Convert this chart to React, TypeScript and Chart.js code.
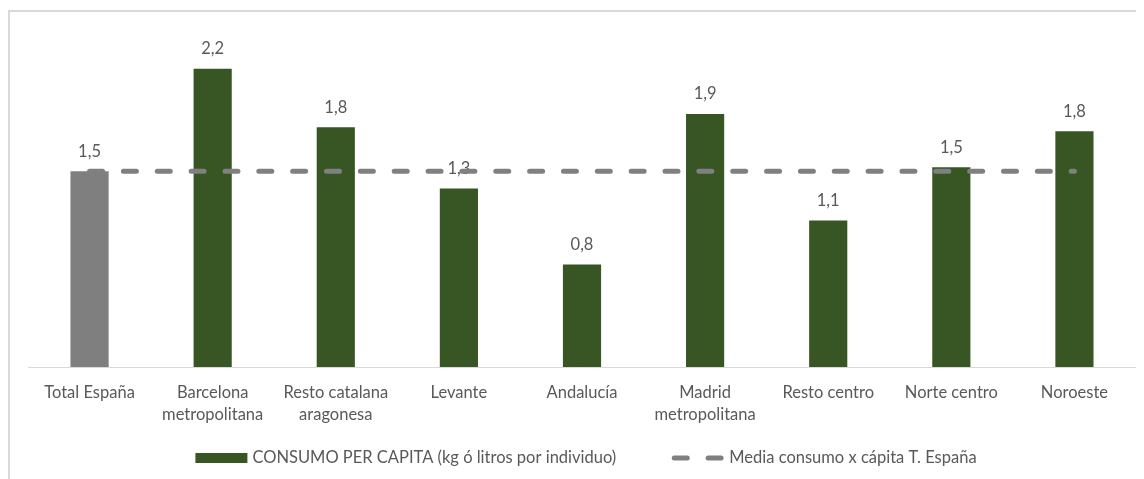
import React, { useEffect, useRef } from "react";
import { Chart, registerables } from "chart.js";

Chart.register(...registerables);

const categories: string[][] = [
  ["Total España"],
  ["Barcelona", "metropolitana"],
  ["Resto catalana", "aragonesa"],
  ["Levante"],
  ["Andalucía"],
  ["Madrid", "metropolitana"],
  ["Resto centro"],
  ["Norte centro"],
  ["Noroeste"],
];
const consumoPerCapita = [1.47, 2.24, 1.8, 1.34, 0.77, 1.9, 1.1, 1.5, 1.77];
const mediaEspana = [1.47, 1.47, 1.47, 1.47, 1.47, 1.47, 1.47, 1.47, 1.47];
const seriesNames = [
  "CONSUMO PER CAPITA (kg ó litros por individuo)",
  "Media consumo x cápita T. España",
];
const barColors = ["#7f7f7f", "#375623", "#375623", "#375623", "#375623", "#375623", "#375623", "#375623", "#375623"];

const FONT = "Lato, 'Open Sans', sans-serif";
const FONT_SIZE = 16.5;
const TEXT = "#595959";
const GREEN = "#375623";
const DASH_GRAY = "#808080";

const fmt = (v: number) => v.toFixed(1).replace(".", ",");

const valueLabels = {
  id: "valueLabels",
  afterDatasetDraw(chart: any, args: any) {
    if (args.index !== 0) return;
    const { ctx } = chart;
    const meta = chart.getDatasetMeta(0);
    ctx.save();
    ctx.font = `${FONT_SIZE}px ${FONT}`;
    ctx.fillStyle = TEXT;
    ctx.textAlign = "center";
    ctx.textBaseline = "middle";
    meta.data.forEach((el: any, i: number) => {
      ctx.fillText(fmt(consumoPerCapita[i]), el.x, el.y - 20);
    });
    ctx.restore();
  },
};

const customLegend = {
  id: "customLegend",
  afterDraw(chart: any) {
    const { ctx, chartArea } = chart;
    ctx.save();
    ctx.font = `${FONT_SIZE}px ${FONT}`;
    const w1 = ctx.measureText(seriesNames[0]).width;
    const w2 = ctx.measureText(seriesNames[1]).width;
    const boxW = 52;
    const lineW = 54;
    const total = boxW + 5 + w1 + 55 + lineW + 4 + w2;
    const cx = (chartArea.left + chartArea.right) / 2 + 4;
    let x = cx - total / 2;
    const y = chartArea.bottom + 91;
    ctx.fillStyle = GREEN;
    ctx.fillRect(x, y - 5, boxW, 10);
    x += boxW + 5;
    ctx.fillStyle = TEXT;
    ctx.textBaseline = "middle";
    ctx.textAlign = "left";
    ctx.fillText(seriesNames[0], x, y);
    x += w1 + 55;
    ctx.strokeStyle = DASH_GRAY;
    ctx.lineWidth = 5;
    ctx.lineCap = "round";
    ctx.setLineDash([13, 20.85]);
    ctx.beginPath();
    ctx.moveTo(x + 3, y);
    ctx.lineTo(x + lineW - 2, y);
    ctx.stroke();
    ctx.setLineDash([]);
    x += lineW + 4;
    ctx.fillText(seriesNames[1], x, y);
    ctx.restore();
  },
};

export default function App() {
  const ref = useRef<HTMLCanvasElement>(null);
  useEffect(() => {
    document.documentElement.style.overflow = "hidden";
    const canvas = ref.current!;
    const chart = new Chart(canvas, {
      type: "bar",
      data: {
        labels: categories as any,
        datasets: [
          {
            type: "bar",
            label: seriesNames[0],
            data: consumoPerCapita,
            backgroundColor: barColors,
            borderWidth: 0,
            categoryPercentage: 1,
            barPercentage: 0.31,
            order: 1,
          } as any,
          {
            type: "line",
            label: seriesNames[1],
            data: mediaEspana,
            borderColor: DASH_GRAY,
            borderWidth: 5,
            borderDash: [13, 20.85],
            borderCapStyle: "round",
            pointRadius: 0,
            fill: false,
            order: 0,
          } as any,
        ],
      },
      options: {
        responsive: false,
        animation: false,
        devicePixelRatio: 1,
        layout: { padding: { left: 18, right: 8, top: 22, bottom: 0 } },
        plugins: {
          legend: { display: false },
          tooltip: { enabled: false },
        },
        scales: {
          x: {
            grid: { display: false, drawTicks: false },
            border: { display: true, color: "#d9d9d9", width: 1 },
            ticks: {
              color: TEXT,
              font: { size: FONT_SIZE, family: FONT, lineHeight: 1.3 },
              padding: 15,
              maxRotation: 0,
              autoSkip: false,
            },
            afterFit(scale: any) {
              scale.height = 112;
            },
          },
          y: {
            display: false,
            min: 0,
            max: 2.5,
          },
        },
      },
      plugins: [valueLabels, customLegend],
    });
    return () => chart.destroy();
  }, []);
  return (
    <div
      style={{
        marginTop: 2,
        marginRight: -8,
        borderTop: "2px solid #d9d9d9",
        borderLeft: "2px solid #d9d9d9",
        height: 467,
        overflow: "hidden",
        background: "#fff",
      }}
    >
      <canvas ref={ref} width={1134} height={467} style={{ display: "block", width: 1134, height: 467 }} />
    </div>
  );
}
